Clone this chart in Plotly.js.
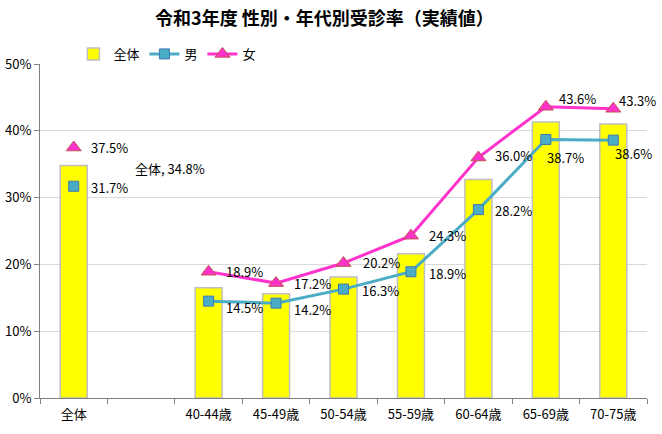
<!DOCTYPE html>
<html>
<head>
<meta charset="utf-8">
<script src="https://cdn.plot.ly/plotly-3.0.1.min.js"></script>
<style>html,body{margin:0;padding:0;background:#fff;}#chart{width:662px;height:434px;}</style>
</head>
<body>
<div id="chart"></div>
<script>
const categories = ['全体', ' ', '40-44歳', '45-49歳', '50-54歳', '55-59歳', '60-64歳', '65-69歳', '70-75歳'];
const totalRate = [34.8, null, 16.5, 15.6, 18.1, 21.6, 32.7, 41.3, 41.0];
const maleRate = [31.7, null, 14.5, 14.2, 16.3, 18.9, 28.2, 38.7, 38.6];
const femaleRate = [37.5, null, 18.9, 17.2, 20.2, 24.3, 36.0, 43.6, 43.3];
const yTickVals = [0, 10, 20, 30, 40, 50];
const yTickText = ['0%', '10%', '20%', '30%', '40%', '50%'];

const font = 'Noto Sans CJK JP, sans-serif';
const fmt = v => v == null ? '' : v.toFixed(1) + '%';

// label offsets (pixels) relative to each marker: [dx, dy down]
const maleOffsets = [[15, 1], null, [15, 6], [16, 6], [16, 1], [16, 2], [15, 1], [-1, 18], [0, 13]];
const femaleOffsets = [[15, 0], null, [15, 0], [16, 0], [17, -1], [16, 0], [15, -2], [11, -8], [4, -8]];

const traces = [
  {
    type: 'bar', name: '全体', x: categories, y: totalRate,
    marker: {color: '#ffff00', line: {color: '#bfbfbf', width: 1.5}},
    hoverinfo: 'skip'
  },
  {
    type: 'scatter', mode: 'lines+markers', name: '男', x: categories, y: maleRate,
    line: {color: '#4bacc6', width: 3},
    marker: {symbol: 'square', size: 10, color: '#4bacc6', line: {color: '#3c78b4', width: 1}},
    cliponaxis: false
  },
  {
    type: 'scatter', mode: 'lines+markers', name: '女', x: categories, y: femaleRate,
    line: {color: '#ff33cc', width: 3},
    marker: {symbol: 'triangle-up', size: 13, color: '#ff33cc', line: {color: '#c0504d', width: 1}},
    cliponaxis: false
  }
];

const annotations = [{
  x: categories[0], y: totalRate[0], xref: 'x', yref: 'y',
  text: categories[0] + ', ' + fmt(totalRate[0]),
  showarrow: false, xanchor: 'left', yanchor: 'middle', xshift: 59, yshift: -3,
  font: {family: font, size: 13, color: '#000'}
}];
function addLabels(values, offsets) {
  values.forEach((v, i) => {
    if (v == null) return;
    annotations.push({
      x: categories[i], y: v, xref: 'x', yref: 'y', text: fmt(v),
      showarrow: false, xanchor: 'left', yanchor: 'middle',
      xshift: offsets[i][0], yshift: -offsets[i][1],
      font: {family: font, size: 13, color: '#000'}
    });
  });
}
addLabels(maleRate, maleOffsets);
addLabels(femaleRate, femaleOffsets);

const layout = {
  width: 662, height: 434,
  margin: {l: 40, r: 15, t: 64, b: 36},
  paper_bgcolor: '#fff', plot_bgcolor: '#fff',
  font: {family: font, size: 13, color: '#000'},
  title: {text: '<b>令和3年度 性別・年代別受診率（実績値）</b>', font: {family: font, size: 18, color: '#000'}, x: 0.49, xanchor: 'center', y: 0.958, yanchor: 'middle'},
  bargap: 0.6,
  showlegend: true,
  legend: {orientation: 'h', x: 0.055, xanchor: 'left', y: 1.075, yanchor: 'top', font: {family: font, size: 13}, itemwidth: 30, traceorder: 'normal'},
  xaxis: {
    type: 'category', categoryorder: 'array', categoryarray: categories,
    range: [-0.5, categories.length - 0.5], autorange: false,
    showline: true, linecolor: '#808080', linewidth: 1,
    ticks: 'outside', tickson: 'boundaries', ticklen: 5, tickcolor: '#808080',
    ticklabelstandoff: 4,
    showgrid: false, tickfont: {family: font, size: 13, color: '#000'},
    fixedrange: true
  },
  yaxis: {
    range: [0, 50], autorange: false, tickvals: yTickVals, ticktext: yTickText,
    showline: true, linecolor: '#808080', linewidth: 1,
    ticks: 'outside', ticklen: 5, tickcolor: '#808080',
    showgrid: true, gridcolor: '#d9d9d9', gridwidth: 1,
    zeroline: false, tickfont: {family: font, size: 13, color: '#000'},
    fixedrange: true
  },
  annotations: annotations
};

Plotly.newPlot('chart', traces, layout, {displayModeBar: false, staticPlot: true});
</script>
</body>
</html>
